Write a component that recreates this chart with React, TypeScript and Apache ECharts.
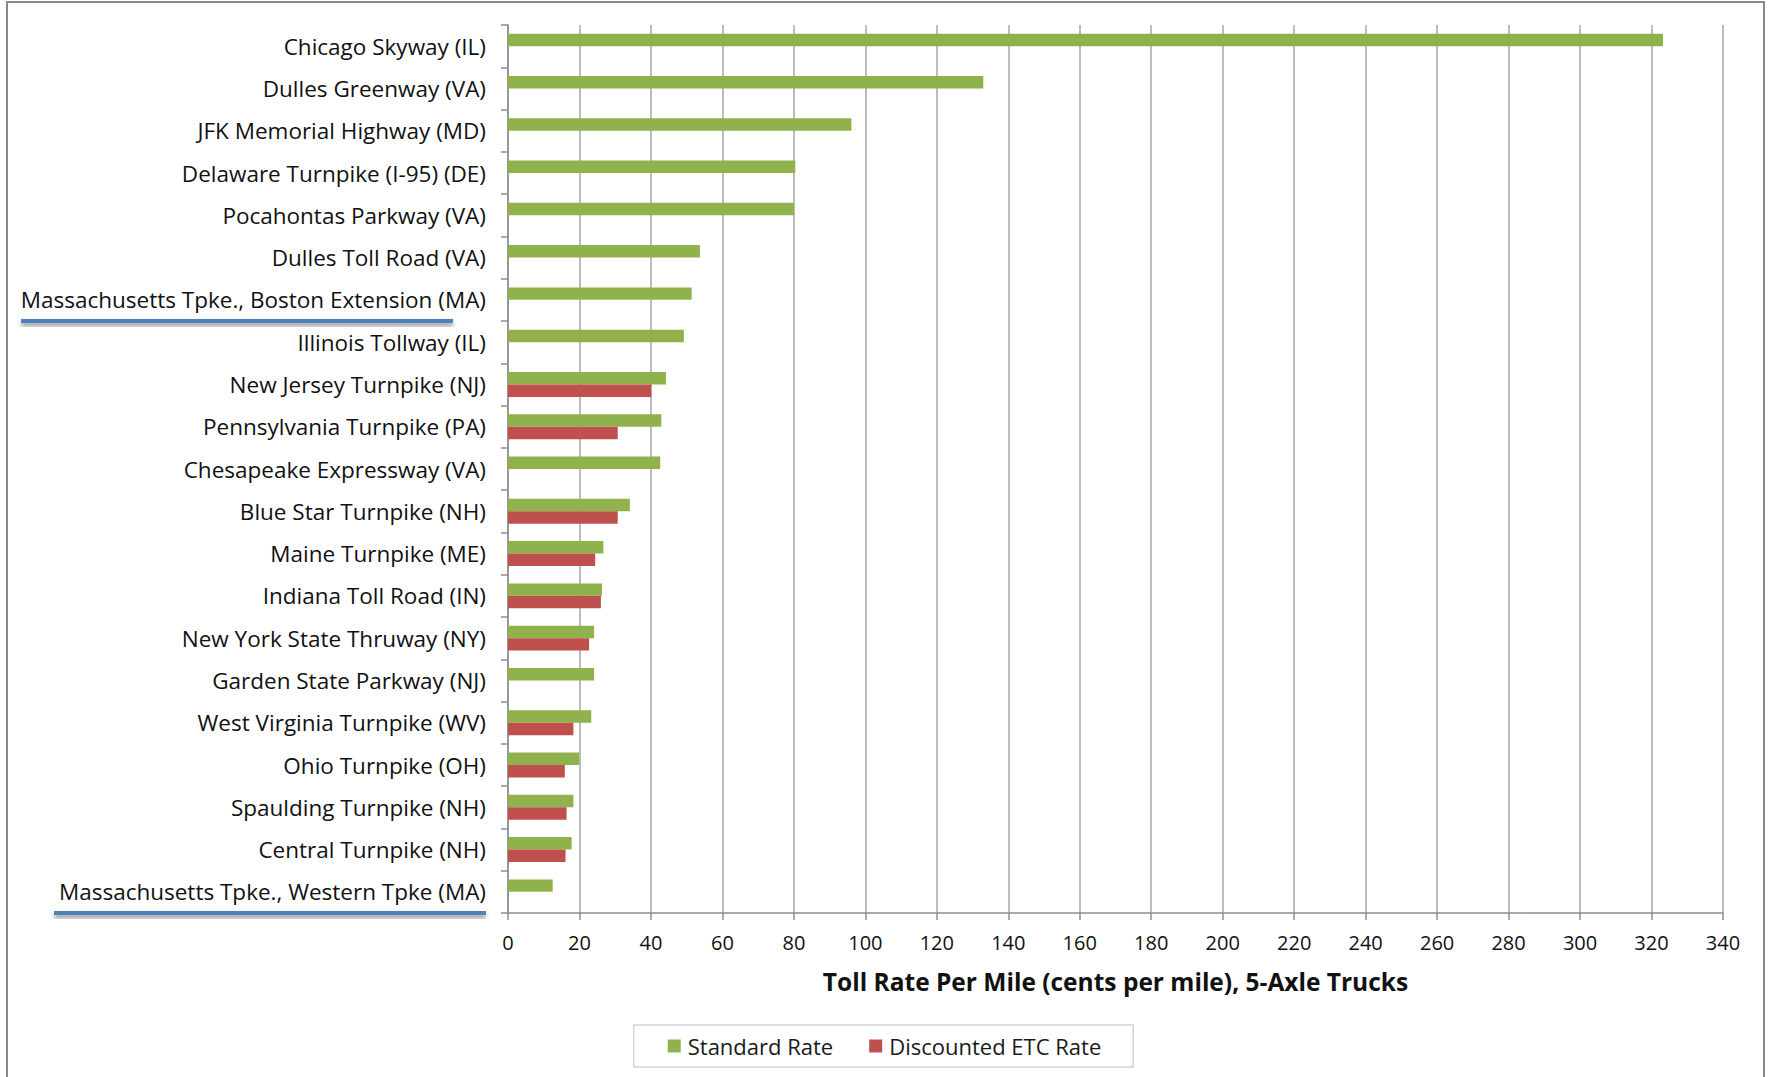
import React, { useEffect, useRef } from "react";
import * as echarts from "echarts";

const categories: string[] = [
  "Chicago Skyway (IL)",
  "Dulles Greenway (VA)",
  "JFK Memorial Highway (MD)",
  "Delaware Turnpike (I-95) (DE)",
  "Pocahontas Parkway (VA)",
  "Dulles Toll Road (VA)",
  "Massachusetts Tpke., Boston Extension (MA)",
  "Illinois Tollway (IL)",
  "New Jersey Turnpike (NJ)",
  "Pennsylvania Turnpike (PA)",
  "Chesapeake Expressway (VA)",
  "Blue Star Turnpike (NH)",
  "Maine Turnpike (ME)",
  "Indiana Toll Road (IN)",
  "New York State Thruway (NY)",
  "Garden State Parkway (NJ)",
  "West Virginia Turnpike (WV)",
  "Ohio Turnpike (OH)",
  "Spaulding Turnpike (NH)",
  "Central Turnpike (NH)",
  "Massachusetts Tpke., Western Tpke (MA)",
];

const standardRate: number[] = [
  323.2, 133, 96.1, 80.4, 80, 53.7, 51.4, 49.2, 44.2, 42.9, 42.6, 34.1, 26.7,
  26.3, 24.1, 24.1, 23.3, 19.9, 18.3, 17.8, 12.5,
];

const discountedRate: (number | null)[] = [
  null, null, null, null, null, null, null, null, 40.1, 30.7, null, 30.7, 24.4,
  26.0, 22.7, null, 18.3, 15.9, 16.4, 16.1, null,
];

const seriesNames = ["Standard Rate", "Discounted ETC Rate"];
const axisTitle = "Toll Rate Per Mile (cents per mile), 5-Axle Trucks";

const GREEN = "#8FB24D";
const RED = "#C0504D";
const FONT = "'Open Sans', 'DejaVu Sans', sans-serif";

export default function App() {
  const ref = useRef<HTMLDivElement>(null);

  useEffect(() => {
    document.body.style.margin = "0";
    if (!ref.current) return;
    const chart = echarts.init(ref.current, null, { renderer: "svg" });
    chart.setOption({
      animation: false,
      backgroundColor: "#ffffff",
      textStyle: { fontFamily: FONT },
      grid: { left: 508, right: 46, top: 25, bottom: 164, containLabel: false },
      legend: {
        data: seriesNames,
        left: "center",
        top: 1025,
        icon: "rect",
        itemWidth: 13,
        itemHeight: 13,
        itemGap: 36,
        padding: [10, 32, 10, 34],
        borderColor: "#D4D4D4",
        borderWidth: 1.5,
        textStyle: { fontFamily: FONT, fontSize: 22, color: "#1a1a1a", padding: [0, 0, 0, 2] },
      },
      xAxis: {
        type: "value",
        min: 0,
        max: 340,
        interval: 20,
        name: axisTitle,
        nameLocation: "middle",
        nameGap: 56,
        nameTextStyle: { fontFamily: FONT, fontSize: 24.5, fontWeight: "bold", color: "#111" },
        axisLine: { show: true, lineStyle: { color: "#8C8C8C", width: 1.5 } },
        axisTick: { show: true, length: 7, lineStyle: { color: "#8C8C8C", width: 1.5 } },
        axisLabel: { fontFamily: FONT, fontSize: 20, color: "#111", margin: 19 },
        splitLine: { show: true, lineStyle: { color: "#A6A6A6", width: 1.5 } },
      },
      yAxis: {
        type: "category",
        inverse: true,
        data: categories,
        axisLine: { show: true, lineStyle: { color: "#8C8C8C", width: 1.5 } },
        axisTick: { show: true, length: 7, alignWithLabel: false, lineStyle: { color: "#8C8C8C", width: 1.5 } },
        axisLabel: { fontFamily: FONT, fontSize: 22.5, color: "#111", margin: 22 },
        splitLine: { show: false },
      },
      series: [
        {
          name: seriesNames[0],
          type: "bar",
          data: standardRate,
          itemStyle: { color: GREEN },
          barCategoryGap: "41%",
          barGap: "0%",
        },
        {
          name: seriesNames[1],
          type: "bar",
          data: discountedRate,
          itemStyle: { color: RED },
          barCategoryGap: "41%",
          barGap: "0%",
        },
      ],
      graphic: [
        {
          type: "rect",
          shape: { x: 7, y: 2, width: 1757, height: 1100 },
          style: { fill: "none", stroke: "#8A8A8A", lineWidth: 2 },
          silent: true,
        },
        {
          type: "rect",
          shape: { x: 21, y: 319, width: 432, height: 4 },
          style: {
            fill: "#4F81BD",
            shadowColor: "rgba(0,0,0,0.45)",
            shadowBlur: 4,
            shadowOffsetY: 3,
          },
          silent: true,
        },
        {
          type: "rect",
          shape: { x: 54, y: 911, width: 432, height: 4 },
          style: {
            fill: "#4F81BD",
            shadowColor: "rgba(0,0,0,0.45)",
            shadowBlur: 4,
            shadowOffsetY: 3,
          },
          silent: true,
        },
      ],
    });
    return () => chart.dispose();
  }, []);

  return <div ref={ref} style={{ width: 1769, height: 1077 }} />;
}
